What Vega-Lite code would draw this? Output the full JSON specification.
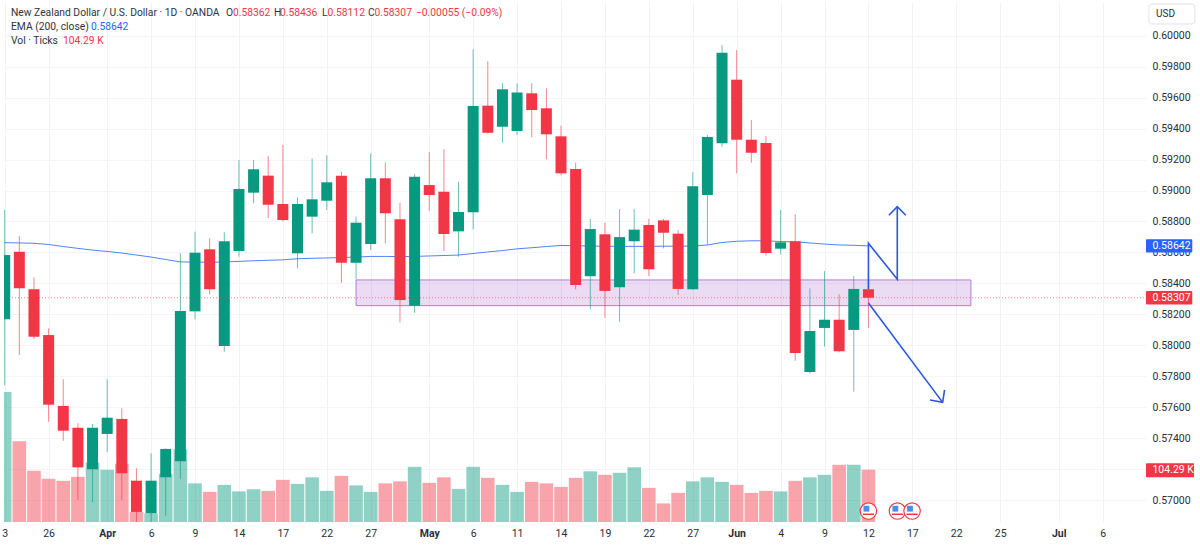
{
  "$schema": "https://vega.github.io/schema/vega-lite/v6.json",
  "width": 1142,
  "height": 520,
  "autosize": "none",
  "padding": {"left": 4, "top": 2, "right": 54, "bottom": 25},
  "background": "#ffffff",
  "config": {"view": {"stroke": null}, "font": "Roboto"},
  "datasets": {
    "candles": [
      {"i":0,"tone":"up","open":0.58168,"high":0.58874,"low":0.57743,"close":0.58583,"ema":0.58663,"vol":259},
      {"i":1,"tone":"down","open":0.58604,"high":0.58706,"low":0.57937,"close":0.58368,"ema":0.58661,"vol":161},
      {"i":2,"tone":"down","open":0.58362,"high":0.58439,"low":0.5804,"close":0.58055,"ema":0.58659,"vol":102},
      {"i":3,"tone":"down","open":0.58066,"high":0.5811,"low":0.57506,"close":0.57616,"ema":0.58651,"vol":86},
      {"i":4,"tone":"down","open":0.57608,"high":0.5778,"low":0.57383,"close":0.57448,"ema":0.58638,"vol":82},
      {"i":5,"tone":"down","open":0.57467,"high":0.57496,"low":0.57,"close":0.57211,"ema":0.58626,"vol":90},
      {"i":6,"tone":"up","open":0.57199,"high":0.57491,"low":0.56985,"close":0.57467,"ema":0.58615,"vol":118},
      {"i":7,"tone":"up","open":0.57427,"high":0.5778,"low":0.5731,"close":0.57532,"ema":0.58606,"vol":104},
      {"i":8,"tone":"down","open":0.57524,"high":0.57593,"low":0.57,"close":0.57173,"ema":0.58596,"vol":116},
      {"i":9,"tone":"down","open":0.57125,"high":0.57205,"low":0.56858,"close":0.56923,"ema":0.58583,"vol":20},
      {"i":10,"tone":"up","open":0.56914,"high":0.57302,"low":0.56858,"close":0.57125,"ema":0.5857,"vol":17},
      {"i":11,"tone":"up","open":0.57147,"high":0.57334,"low":0.56897,"close":0.5733,"ema":0.58554,"vol":96},
      {"i":12,"tone":"up","open":0.5725,"high":0.58594,"low":0.57136,"close":0.58221,"ema":0.58539,"vol":145},
      {"i":13,"tone":"up","open":0.58219,"high":0.58734,"low":0.58168,"close":0.58598,"ema":0.58537,"vol":77},
      {"i":14,"tone":"down","open":0.5862,"high":0.58691,"low":0.58329,"close":0.58362,"ema":0.58536,"vol":60},
      {"i":15,"tone":"up","open":0.57995,"high":0.5873,"low":0.57958,"close":0.58672,"ema":0.58538,"vol":74},
      {"i":16,"tone":"up","open":0.58609,"high":0.59197,"low":0.58572,"close":0.5901,"ema":0.58542,"vol":61},
      {"i":17,"tone":"up","open":0.58986,"high":0.59197,"low":0.58917,"close":0.59137,"ema":0.58546,"vol":65},
      {"i":18,"tone":"down","open":0.59096,"high":0.59223,"low":0.58822,"close":0.58908,"ema":0.58549,"vol":62},
      {"i":19,"tone":"down","open":0.58913,"high":0.59294,"low":0.58801,"close":0.58809,"ema":0.58552,"vol":84},
      {"i":20,"tone":"up","open":0.58594,"high":0.58956,"low":0.58497,"close":0.58913,"ema":0.58559,"vol":76},
      {"i":21,"tone":"up","open":0.58831,"high":0.59208,"low":0.58723,"close":0.58943,"ema":0.58562,"vol":89},
      {"i":22,"tone":"up","open":0.58934,"high":0.59227,"low":0.58874,"close":0.59053,"ema":0.58564,"vol":62},
      {"i":23,"tone":"down","open":0.59096,"high":0.59121,"low":0.58404,"close":0.58533,"ema":0.58567,"vol":92},
      {"i":24,"tone":"up","open":0.58533,"high":0.58831,"low":0.58426,"close":0.58792,"ema":0.5857,"vol":73},
      {"i":25,"tone":"up","open":0.58654,"high":0.5924,"low":0.58615,"close":0.59079,"ema":0.58574,"vol":60},
      {"i":26,"tone":"down","open":0.59079,"high":0.5918,"low":0.58659,"close":0.58853,"ema":0.58574,"vol":77},
      {"i":27,"tone":"down","open":0.58814,"high":0.58921,"low":0.58148,"close":0.58292,"ema":0.58573,"vol":81},
      {"i":28,"tone":"up","open":0.58256,"high":0.59106,"low":0.5821,"close":0.59089,"ema":0.58574,"vol":110},
      {"i":29,"tone":"down","open":0.59035,"high":0.59249,"low":0.58869,"close":0.58971,"ema":0.58577,"vol":78},
      {"i":30,"tone":"down","open":0.58992,"high":0.59266,"low":0.58609,"close":0.58719,"ema":0.5858,"vol":89},
      {"i":31,"tone":"up","open":0.58736,"high":0.59057,"low":0.58572,"close":0.58861,"ema":0.58583,"vol":66},
      {"i":32,"tone":"up","open":0.58859,"high":0.59912,"low":0.58749,"close":0.59546,"ema":0.58593,"vol":110},
      {"i":33,"tone":"down","open":0.59548,"high":0.59835,"low":0.59368,"close":0.59373,"ema":0.58603,"vol":88},
      {"i":34,"tone":"up","open":0.59412,"high":0.59693,"low":0.59309,"close":0.59654,"ema":0.58612,"vol":74},
      {"i":35,"tone":"up","open":0.59384,"high":0.59693,"low":0.59359,"close":0.59634,"ema":0.58623,"vol":60},
      {"i":36,"tone":"down","open":0.59628,"high":0.59693,"low":0.59344,"close":0.5952,"ema":0.5863,"vol":80},
      {"i":37,"tone":"down","open":0.59531,"high":0.5966,"low":0.59202,"close":0.59363,"ema":0.58638,"vol":77},
      {"i":38,"tone":"down","open":0.5935,"high":0.59419,"low":0.59098,"close":0.59111,"ema":0.58645,"vol":70},
      {"i":39,"tone":"down","open":0.59139,"high":0.5918,"low":0.58362,"close":0.58389,"ema":0.58643,"vol":88},
      {"i":40,"tone":"up","open":0.58446,"high":0.58816,"low":0.58234,"close":0.58751,"ema":0.58641,"vol":101},
      {"i":41,"tone":"down","open":0.58717,"high":0.58792,"low":0.58178,"close":0.58351,"ema":0.5864,"vol":94},
      {"i":42,"tone":"up","open":0.58375,"high":0.5888,"low":0.58152,"close":0.58699,"ema":0.58639,"vol":98},
      {"i":43,"tone":"up","open":0.58672,"high":0.5888,"low":0.58465,"close":0.58747,"ema":0.58639,"vol":109},
      {"i":44,"tone":"down","open":0.58777,"high":0.58818,"low":0.58447,"close":0.58491,"ema":0.58639,"vol":68},
      {"i":45,"tone":"down","open":0.58807,"high":0.58816,"low":0.58626,"close":0.58727,"ema":0.5864,"vol":37},
      {"i":46,"tone":"down","open":0.58721,"high":0.58745,"low":0.58325,"close":0.58364,"ema":0.5864,"vol":58},
      {"i":47,"tone":"up","open":0.58362,"high":0.59118,"low":0.58357,"close":0.59027,"ema":0.58641,"vol":81},
      {"i":48,"tone":"up","open":0.58971,"high":0.59359,"low":0.58648,"close":0.59346,"ema":0.58648,"vol":89},
      {"i":49,"tone":"up","open":0.59305,"high":0.5994,"low":0.59283,"close":0.5989,"ema":0.58664,"vol":80},
      {"i":50,"tone":"down","open":0.59716,"high":0.59908,"low":0.59111,"close":0.59328,"ema":0.58672,"vol":74},
      {"i":51,"tone":"down","open":0.59328,"high":0.59455,"low":0.5918,"close":0.59244,"ema":0.58675,"vol":58},
      {"i":52,"tone":"down","open":0.59307,"high":0.59352,"low":0.58579,"close":0.58596,"ema":0.58675,"vol":62},
      {"i":53,"tone":"up","open":0.58624,"high":0.58874,"low":0.58588,"close":0.58665,"ema":0.5867,"vol":61},
      {"i":54,"tone":"down","open":0.58672,"high":0.58846,"low":0.579,"close":0.5795,"ema":0.58668,"vol":82},
      {"i":55,"tone":"up","open":0.57827,"high":0.58368,"low":0.57819,"close":0.58092,"ema":0.58661,"vol":89},
      {"i":56,"tone":"up","open":0.58112,"high":0.5848,"low":0.57991,"close":0.58165,"ema":0.58654,"vol":94},
      {"i":57,"tone":"down","open":0.58165,"high":0.58329,"low":0.57955,"close":0.57961,"ema":0.58648,"vol":114},
      {"i":58,"tone":"up","open":0.58099,"high":0.58447,"low":0.577,"close":0.58364,"ema":0.58646,"vol":114},
      {"i":59,"tone":"down","open":0.58362,"high":0.58436,"low":0.58112,"close":0.58307,"ema":0.58642,"vol":104.29}
    ],
    "zone": [{"i":24,"i2":66,"low":0.58256,"high":0.58422}],
    "lastPrice": [{"i":0.5,"i2":77.96,"price":0.58307}],
    "arrows": [
      {"leg":"a","seq":1,"i":59,"price":0.58364},
      {"leg":"a","seq":2,"i":59,"price":0.58659},
      {"leg":"a","seq":3,"i":60.97,"price":0.58426},
      {"leg":"a","seq":4,"i":60.97,"price":0.58895},
      {"leg":"b","seq":1,"i":60.4,"price":0.5884},
      {"leg":"b","seq":2,"i":60.97,"price":0.58895},
      {"leg":"b","seq":3,"i":61.55,"price":0.5884},
      {"leg":"c","seq":1,"i":59,"price":0.58273},
      {"leg":"c","seq":2,"i":64.07,"price":0.57631},
      {"leg":"d","seq":1,"i":63.2,"price":0.57646},
      {"leg":"d","seq":2,"i":64.07,"price":0.57631},
      {"leg":"d","seq":3,"i":64.2,"price":0.57711}
    ],
    "events": [
      {"i":59,"price":0.56929},
      {"i":60.98,"price":0.56929},
      {"i":61.98,"price":0.56929}
    ],
    "flagBlue": [
      {"i":58.86,"price":0.56944},
      {"i":60.84,"price":0.56944},
      {"i":61.84,"price":0.56944}
    ],
    "flagRed": [
      {"i":58.62,"i2":59.38,"price":0.56908},
      {"i":60.6,"i2":61.36,"price":0.56908},
      {"i":61.6,"i2":62.36,"price":0.56908}
    ],
    "tags": [
      {"i":77.96,"i2":81.12,"tx":78.4,"price":0.58642,"lo":0.58599,"hi":0.58685,"label":"0.58642","tone":"ema"},
      {"i":77.96,"i2":81.12,"tx":78.4,"price":0.58307,"lo":0.58264,"hi":0.5835,"label":"0.58307","tone":"down"},
      {"i":77.96,"i2":81.24,"tx":78.4,"price":0.57192,"lo":0.57147,"hi":0.57237,"label":"104.29 K","tone":"down"}
    ],
    "usd": [{"i":78.16,"i2":81.3,"lo":0.60076,"hi":0.60205,"tx":78.65,"price":0.6014,"label":"USD"}],
    "notes": [
      {"i":0.43,"price":0.60145,"tone":"ink","label":"New Zealand Dollar / U.S. Dollar · 1D · OANDA"},
      {"i":15.12,"price":0.60145,"tone":"ink","label":"O"},
      {"i":15.59,"price":0.60145,"tone":"down","label":"0.58362"},
      {"i":18.39,"price":0.60145,"tone":"ink","label":"H"},
      {"i":18.8,"price":0.60145,"tone":"down","label":"0.58436"},
      {"i":21.67,"price":0.60145,"tone":"ink","label":"L"},
      {"i":22.05,"price":0.60145,"tone":"down","label":"0.58112"},
      {"i":24.81,"price":0.60145,"tone":"ink","label":"C"},
      {"i":25.26,"price":0.60145,"tone":"down","label":"0.58307"},
      {"i":28.09,"price":0.60145,"tone":"down","label":"−0.00055 (−0.09%)"},
      {"i":0.43,"price":0.60056,"tone":"ink","label":"EMA (200, close)"},
      {"i":5.89,"price":0.60056,"tone":"ema","label":"0.58642"},
      {"i":0.43,"price":0.59966,"tone":"ink","label":"Vol · Ticks"},
      {"i":3.98,"price":0.59966,"tone":"down","label":"104.29 K"}
    ]
  },
  "encoding": {
    "x": {
      "field": "i",
      "type": "quantitative",
      "title": null,
      "scale": {"domain": [-0.048, 77.96], "nice": false, "zero": false, "padding": 0},
      "axis": {
        "values": [0,3,7,10,13,16,19,22,25,29,32,35,38,41,44,47,50,53,56,59,62,65,68,72,75],
        "tickCount": 30,
        "labelExpr": "{0:'3',3:'26',7:'Apr',10:'6',13:'9',16:'14',19:'17',22:'22',25:'27',29:'May',32:'6',35:'11',38:'14',41:'19',44:'22',47:'27',50:'Jun',53:'4',56:'9',59:'12',62:'17',65:'22',68:'25',72:'Jul',75:'6'}[datum.value]",
        "labelFontWeight": {"expr": "indexof([7,29,50,72], datum.value) >= 0 ? 'bold' : 'normal'"},
        "labelFontSize": 10.5,
        "labelColor": "#2a2e39",
        "labelPadding": 6,
        "labelFlush": false,
        "labelOverlap": false,
        "tickSize": 0,
        "domain": false,
        "grid": true,
        "gridColor": "#f0f2f6",
        "gridWidth": 1
      }
    }
  },
  "resolve": {"scale": {"y": "independent"}},
  "layer": [
    {
      "data": {"name": "candles"},
      "mark": {"type": "bar", "orient": "vertical", "size": 13.6, "opacity": 0.45, "clip": true},
      "encoding": {
        "y": {"field": "vol", "type": "quantitative", "axis": null, "scale": {"domain": [0, 1036], "nice": false}},
        "color": {"field": "tone", "type": "nominal", "legend": null, "scale": {"domain": ["up", "down", "ink", "ema"], "range": ["#089981", "#f23645", "#2f3340", "#2962ff"]}}
      }
    },
    {
      "layer": [
        {
          "data": {"name": "zone"},
          "mark": {"type": "rect", "fill": "#9c4fc8", "fillOpacity": 0.2, "stroke": "#b57ad6", "strokeWidth": 1},
          "encoding": {
            "x2": {"field": "i2"},
            "y": {
              "field": "low",
              "type": "quantitative",
              "title": null,
              "scale": {"domain": [0.56858, 0.60218], "nice": false, "zero": false},
              "axis": {
                "orient": "right",
                "values": [0.57,0.572,0.574,0.576,0.578,0.58,0.582,0.584,0.586,0.588,0.59,0.592,0.594,0.596,0.598,0.6],
                "tickCount": 20,
                "format": ".5f",
                "labelFontSize": 10.5,
                "labelColor": "#2a2e39",
                "labelPadding": 6,
                "labelOverlap": false,
                "tickSize": 0,
                "domain": false,
                "grid": true,
                "gridColor": "#f3f4f8",
                "gridWidth": 1
              }
            },
            "y2": {"field": "high"}
          }
        },
        {
          "data": {"name": "candles"},
          "mark": {"type": "line", "color": "#2962ff", "strokeWidth": 1, "opacity": 0.8, "clip": true},
          "encoding": {"y": {"field": "ema", "type": "quantitative"}}
        },
        {
          "data": {"name": "candles"},
          "mark": {"type": "rule", "strokeWidth": 1, "opacity": 0.6, "clip": true},
          "encoding": {
            "y": {"field": "low", "type": "quantitative"},
            "y2": {"field": "high"},
            "color": {"field": "tone", "type": "nominal", "legend": null}
          }
        },
        {
          "data": {"name": "candles"},
          "mark": {"type": "bar", "orient": "vertical", "size": 11, "clip": true},
          "encoding": {
            "y": {"field": "open", "type": "quantitative"},
            "y2": {"field": "close"},
            "color": {"field": "tone", "type": "nominal", "legend": null}
          }
        },
        {
          "data": {"name": "lastPrice"},
          "mark": {"type": "rule", "color": "#f23645", "strokeWidth": 1, "strokeDash": [1, 2], "opacity": 0.6},
          "encoding": {
            "x2": {"field": "i2"},
            "y": {"field": "price", "type": "quantitative"}
          }
        },
        {
          "data": {"name": "arrows"},
          "mark": {"type": "line", "color": "#2a57e0", "strokeWidth": 1.6},
          "encoding": {
            "y": {"field": "price", "type": "quantitative"},
            "detail": {"field": "leg"},
            "order": {"field": "seq"}
          }
        },
        {
          "data": {"name": "events"},
          "mark": {"type": "point", "filled": false, "fill": "#ffffff", "fillOpacity": 1, "stroke": "#f23645", "strokeWidth": 1.2, "size": 270},
          "encoding": {"y": {"field": "price", "type": "quantitative"}}
        },
        {
          "data": {"name": "flagBlue"},
          "mark": {"type": "point", "shape": "square", "filled": true, "color": "#4a8ef0", "opacity": 1, "size": 34},
          "encoding": {"y": {"field": "price", "type": "quantitative"}}
        },
        {
          "data": {"name": "flagRed"},
          "mark": {"type": "rule", "color": "#f23645", "strokeWidth": 1.5},
          "encoding": {
            "x2": {"field": "i2"},
            "y": {"field": "price", "type": "quantitative"}
          }
        },
        {
          "data": {"name": "tags"},
          "mark": {"type": "rect", "cornerRadius": 1},
          "encoding": {
            "x2": {"field": "i2"},
            "y": {"field": "lo", "type": "quantitative"},
            "y2": {"field": "hi"},
            "color": {"field": "tone", "type": "nominal", "legend": null}
          }
        },
        {
          "data": {"name": "tags"},
          "mark": {"type": "text", "align": "left", "baseline": "middle", "color": "#ffffff", "fontSize": 10.5},
          "encoding": {
            "x": {"field": "tx", "type": "quantitative"},
            "y": {"field": "price", "type": "quantitative"},
            "text": {"field": "label"}
          }
        },
        {
          "data": {"name": "usd"},
          "mark": {"type": "rect", "fill": "#ffffff", "stroke": "#e0e3eb", "strokeWidth": 1, "cornerRadius": 3},
          "encoding": {
            "x2": {"field": "i2"},
            "y": {"field": "lo", "type": "quantitative"},
            "y2": {"field": "hi"}
          }
        },
        {
          "data": {"name": "usd"},
          "mark": {"type": "text", "align": "left", "baseline": "middle", "color": "#2a2e39", "fontSize": 10},
          "encoding": {
            "x": {"field": "tx", "type": "quantitative"},
            "y": {"field": "price", "type": "quantitative"},
            "text": {"field": "label"}
          }
        },
        {
          "data": {"name": "notes"},
          "mark": {"type": "text", "align": "left", "baseline": "middle", "fontSize": 10.3},
          "encoding": {
            "y": {"field": "price", "type": "quantitative"},
            "text": {"field": "label"},
            "color": {"field": "tone", "type": "nominal", "legend": null}
          }
        }
      ]
    }
  ]
}
